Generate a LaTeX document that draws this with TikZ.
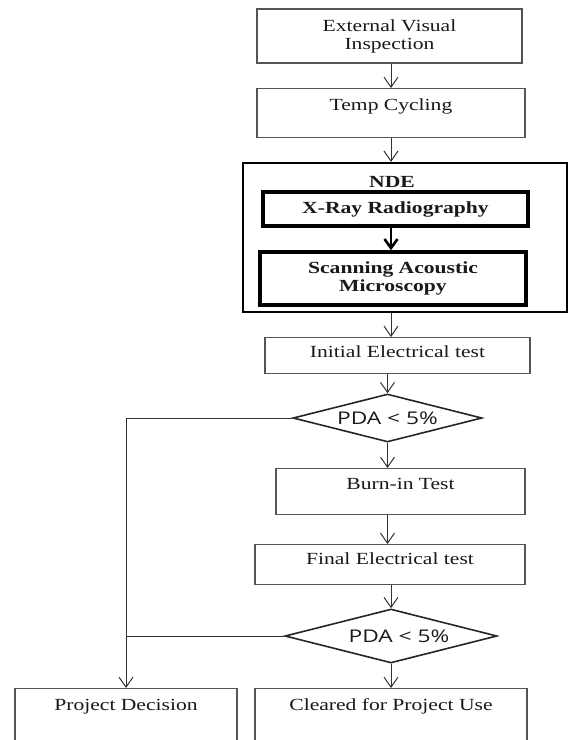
\documentclass[tikz,border=0pt]{standalone}
\usepackage{fontspec}
\setmainfont[FakeStretch=1.27]{Liberation Serif}
\newfontfamily\pdafont[FakeStretch=1.3]{Open Sans}
\usetikzlibrary{arrows.meta,shapes.geometric}
\definecolor{boxgray}{RGB}{85,85,85}
\definecolor{linegray}{RGB}{50,50,50}
\begin{document}
\begin{tikzpicture}[x=1pt,y=-1pt,
  every node/.style={font=\fontsize{17}{18}\selectfont, text=black!90},
  procbox/.style={draw=boxgray, line width=1.3pt, inner xsep=0pt, inner ysep=0pt, anchor=north},
  ndeouter/.style={draw=black, line width=2.2pt, inner sep=0pt},
  ndebox/.style={draw=black, line width=3.5pt, inner sep=0pt, align=center,
    font=\fontsize{17}{18}\selectfont\bfseries},
  decision/.style={diamond, draw=black!85, line width=1.6pt, aspect=4, inner sep=0pt,
    font=\pdafont\fontsize{17.5}{18}\selectfont},
  arr/.style={draw=linegray, line width=1pt, -{Straight Barb[length=10pt,width=14pt]}},
  thickarr/.style={draw=black, line width=2.6pt, -{Straight Barb[length=9pt,width=13pt]}},
  conn/.style={draw=linegray, line width=1pt}
]
\clip (0,0) rectangle (568,740);
\fill[white] (0,0) rectangle (568,740);
\coordinate (ax) at (391,0);

% process boxes
\node[procbox, anchor=center, minimum width=265pt, minimum height=54pt, align=center]
  (b1) at (389.5,36) {External Visual\\Inspection};
\node[procbox, minimum width=268pt, text height=22pt, text depth=27pt]
  (b2) at (391,88) {Temp Cycling};

% NDE group
\node[ndeouter, minimum width=324pt, minimum height=149pt] (nde) at (405,237.5) {};
\node[anchor=base, font=\fontsize{17}{18}\selectfont\bfseries] (ndelbl) at (392,187) {NDE};
\node[ndebox, minimum width=265pt, minimum height=34pt] (xray) at (395.5,209) {X-Ray Radiography};
\node[ndebox, minimum width=266pt, minimum height=53pt] (scan) at (393,278.5) {Scanning Acoustic\\Microscopy};

\node[procbox, minimum width=265pt, text height=20pt, text depth=16pt]
  (init) at (397.5,337) {Initial Electrical test};
\node[decision, minimum width=189pt, minimum height=48pt] (d1) at (387.5,418) {PDA < 5\%};
\node[procbox, minimum width=249pt, text height=21pt, text depth=25pt]
  (burn) at (400.5,468) {Burn-in Test};
\node[procbox, minimum width=270pt, text height=20pt, text depth=20pt]
  (final) at (390,544) {Final Electrical test};
\node[decision, minimum width=212pt, minimum height=54pt] (d2) at (391,636) {\hspace*{16pt}PDA < 5\%};
\node[procbox, minimum width=222pt, text height=22pt, text depth=40pt]
  (pd) at (126,688) {Project Decision};
\node[procbox, minimum width=272pt, text height=22pt, text depth=40pt]
  (clr) at (391,688) {Cleared for Project Use};

% connectors
\draw[arr] (b1.south -| ax) -- (b2.north -| ax);
\draw[arr] (b2.south -| ax) -- (nde.north -| ax);
\draw[thickarr] (xray.south -| ax) -- (scan.north -| ax);
\draw[arr] (nde.south -| ax) -- (init.north -| ax);
\draw[arr] (d1.north |- init.south) -- (d1.north);
\draw[arr] (d1.south) -- (d1.south |- burn.north);
\draw[arr] (d1.south |- burn.south) -- (d1.south |- final.north);
\draw[arr] (d2.north |- final.south) -- (d2.north);
\draw[arr] (d2.south) -- (d2.south |- clr.north);
\draw[arr] (d1.west) -| (pd.north);
\draw[conn] (d2.west) -- (d2.west -| pd.north);
\end{tikzpicture}
\end{document}
